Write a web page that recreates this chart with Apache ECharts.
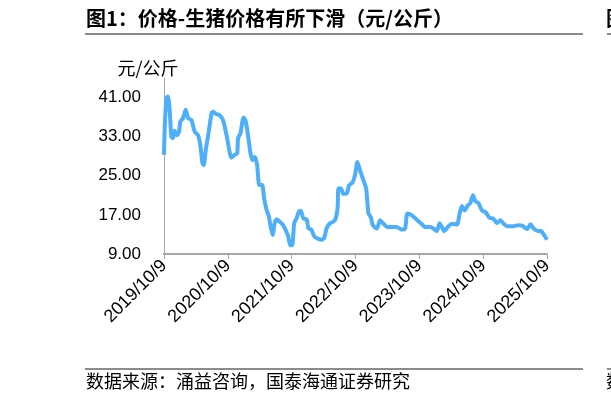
<!DOCTYPE html>
<html>
<head>
<meta charset="utf-8">
<script src="https://cdn.jsdelivr.net/npm/echarts@6/dist/echarts.min.js"></script>
<style>
  html, body { margin: 0; padding: 0; background: #fff; }
  #chart { width: 611px; height: 403px; }
</style>
</head>
<body>
<div id="chart"></div>
<script>
// 生猪价格（元/公斤）
const dates = [
  '2019-10-09', '2019-10-13', '2019-10-23', '2019-11-01', '2019-11-11', '2019-11-20', '2019-11-30',
  '2019-12-09', '2019-12-23', '2020-01-03', '2020-01-11', '2020-01-26', '2020-02-10', '2020-02-24',
  '2020-03-14', '2020-04-02', '2020-04-21', '2020-05-05', '2020-05-16', '2020-05-24', '2020-06-04',
  '2020-06-21', '2020-07-07', '2020-07-16', '2020-08-04', '2020-08-23', '2020-09-11', '2020-10-01',
  '2020-10-20', '2020-10-29', '2020-11-17', '2020-12-01', '2020-12-06', '2020-12-20', '2021-01-01',
  '2021-01-08', '2021-01-19', '2021-02-02', '2021-02-15', '2021-02-27', '2021-03-12', '2021-03-25',
  '2021-04-06', '2021-04-23', '2021-05-04', '2021-05-18', '2021-05-31', '2021-06-12', '2021-06-22',
  '2021-07-05', '2021-07-15', '2021-08-02', '2021-08-21', '2021-09-04', '2021-09-19', '2021-09-30',
  '2021-10-12', '2021-10-23', '2021-11-06', '2021-11-19', '2021-12-01', '2021-12-14', '2022-01-03',
  '2022-01-12', '2022-01-31', '2022-02-15', '2022-03-10', '2022-03-30', '2022-04-13', '2022-04-27',
  '2022-05-16', '2022-06-04', '2022-06-18', '2022-06-29', '2022-07-03', '2022-07-18', '2022-07-31',
  '2022-08-20', '2022-09-02', '2022-09-23', '2022-10-06', '2022-10-20', '2022-11-04', '2022-11-23',
  '2022-12-09', '2022-12-22', '2023-01-04', '2023-01-16', '2023-02-08', '2023-02-27', '2023-03-18',
  '2023-04-10', '2023-05-05', '2023-06-03', '2023-07-01', '2023-07-20', '2023-08-02', '2023-08-28',
  '2023-09-25', '2023-10-24', '2023-11-12', '2023-12-11', '2023-12-29', '2024-01-18', '2024-02-02',
  '2024-02-16', '2024-02-29', '2024-03-24', '2024-04-13', '2024-05-12', '2024-05-27', '2024-06-09',
  '2024-06-24', '2024-07-14', '2024-07-27', '2024-08-11', '2024-08-25', '2024-09-12', '2024-10-02',
  '2024-10-21', '2024-11-14', '2024-12-07', '2024-12-27', '2025-01-15', '2025-02-03', '2025-02-22',
  '2025-04-01', '2025-04-30', '2025-05-19', '2025-06-17', '2025-07-06', '2025-07-25', '2025-08-17',
  '2025-09-05', '2025-09-20', '2025-10-09'
];
const prices = [
  29.3, 34.7, 40.9, 41.2, 38.1, 33.0, 32.7,
  34.2, 33.3, 34.0, 36.1, 36.8, 38.5, 36.8,
  36.4, 34.0, 33.3, 31.0, 27.6, 27.2, 30.3,
  34.0, 37.8, 38.1, 37.6, 37.4, 36.4, 33.3,
  29.6, 28.7, 29.3, 29.6, 32.7, 33.7, 36.4,
  36.9, 36.1, 33.0, 29.6, 28.2, 28.9, 27.2,
  23.1, 23.1, 20.4, 18.0, 16.7, 14.3, 12.9,
  15.6, 16.1, 15.6, 14.9, 13.9, 12.6, 10.8,
  10.8, 15.3, 16.3, 17.7, 17.8, 16.3, 16.0,
  14.3, 13.9, 12.6, 12.1, 11.9, 12.3, 14.3,
  15.3, 15.6, 16.3, 18.6, 22.4, 22.4, 21.3,
  21.4, 23.0, 23.7, 25.1, 27.8, 26.1, 24.1,
  22.4, 17.3, 16.6, 14.9, 14.2, 15.9, 15.2,
  14.5, 14.5, 14.5, 14.0, 14.2, 17.3, 16.9,
  16.0, 15.1, 14.5, 14.5, 14.2, 13.7, 15.3,
  14.5, 13.7, 14.7, 15.2, 15.0, 17.3, 18.8,
  17.9, 19.0, 19.4, 21.0, 19.8, 19.4, 17.9,
  17.6, 16.4, 16.2, 15.3, 15.9, 15.2, 14.7,
  14.7, 14.9, 14.8, 14.1, 15.1, 14.2, 13.7,
  13.7, 13.0, 11.9
];
const xTickYears = [2019, 2020, 2021, 2022, 2023, 2024, 2025];
const yTicks = [9, 17, 25, 33, 41];

// 日期转时间戳，横轴用数值轴
const toTime = s => {
  const p = s.split('-');
  return new Date(+p[0], +p[1] - 1, +p[2]).getTime();
};
const xTicks = xTickYears.map(y => new Date(y, 9, 9).getTime());
const seriesData = dates.map((d, i) => [toTime(d), prices[i]]);

const chart = echarts.init(document.getElementById('chart'));
const option = {
  animation: false,
  backgroundColor: '#fff',
  grid: { left: 164, right: 64, top: 78, bottom: 149, containLabel: false },
  xAxis: {
    type: 'value',
    min: xTicks[0],
    max: xTicks[xTicks.length - 1],
    axisLine: { show: true, lineStyle: { color: '#a6a6a6', width: 2 } },
    axisTick: { show: true, customValues: xTicks, length: 5, lineStyle: { color: '#a6a6a6', width: 1 } },
    axisLabel: {
      customValues: xTicks,
      rotate: 45,
      margin: 9,
      color: '#000',
      fontFamily: 'Liberation Sans, Arial',
      fontSize: 18,
      formatter: v => {
        const d = new Date(v);
        return d.getFullYear() + '/' + (d.getMonth() + 1) + '/' + d.getDate();
      }
    },
    splitLine: { show: false }
  },
  yAxis: {
    type: 'value',
    min: 9,
    max: 45,
    name: '元/公斤',
    nameLocation: 'end',
    nameGap: 10,
    nameTextStyle: {
      color: '#000', fontSize: 18, fontFamily: 'Noto Sans CJK SC',
      align: 'center', verticalAlign: 'middle', padding: [0, 32, 0, 0]
    },
    axisLine: { show: true, lineStyle: { color: '#a6a6a6', width: 1 } },
    axisTick: { show: false },
    axisLabel: {
      customValues: yTicks,
      margin: 21,
      padding: [0, 2, 0, 0],
      color: '#000',
      fontFamily: 'Liberation Sans, Arial',
      fontSize: 17,
      formatter: v => v.toFixed(2)
    },
    splitLine: { show: false }
  },
  series: [{
    type: 'line',
    data: seriesData,
    showSymbol: false,
    smooth: 0.2,
    lineStyle: { color: '#4daff9', width: 4 },
    itemStyle: { color: '#4daff9' }
  }],
  graphic: [
    { type: 'text', left: 86, top: 8,
      style: { text: '图1：价格-生猪价格有所下滑（元/公斤）', fill: '#000',
        font: 'bold 20px "Noto Sans CJK SC"' } },
    { type: 'line', shape: { x1: 85, y1: 34, x2: 583, y2: 34 },
      style: { stroke: '#8c8c8c', lineWidth: 2 } },
    { type: 'text', left: 606, top: 8,
      style: { text: '图2', fill: '#000', font: 'bold 20px "Noto Sans CJK SC"' } },
    { type: 'line', shape: { x1: 607, y1: 34, x2: 611, y2: 34 },
      style: { stroke: '#8c8c8c', lineWidth: 2 } },
    { type: 'line', shape: { x1: 85, y1: 369, x2: 583, y2: 369 },
      style: { stroke: '#8c8c8c', lineWidth: 2 } },
    { type: 'line', shape: { x1: 607, y1: 369, x2: 611, y2: 369 },
      style: { stroke: '#8c8c8c', lineWidth: 2 } },
    { type: 'text', left: 86, top: 372,
      style: { text: '数据来源：涌益咨询，国泰海通证券研究', fill: '#000',
        font: '18px "Noto Sans CJK SC"' } },
    { type: 'text', left: 606, top: 372,
      style: { text: '数据', fill: '#000', font: '18px "Noto Sans CJK SC"' } }
  ]
};
chart.setOption(option);
</script>
</body>
</html>
